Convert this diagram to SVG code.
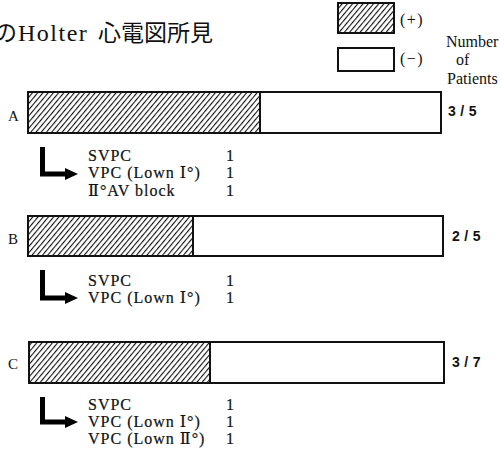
<svg xmlns="http://www.w3.org/2000/svg" width="500" height="449" viewBox="0 0 500 449">
<defs>
<pattern id="hatch" patternUnits="userSpaceOnUse" width="4" height="4" patternTransform="rotate(40)">
<rect width="4" height="4" fill="#fff"/>
<line x1="0" y1="0" x2="0" y2="4" stroke="#111" stroke-width="2.2"/>
</pattern>
<marker id="ah" markerWidth="3" markerHeight="4" refX="0.2" refY="2" orient="auto" markerUnits="strokeWidth">
<path d="M0,0.8 L2.6,2 L0,3.2 Z" fill="#000"/>
</marker>
</defs>
<style>
.bar{fill:#fff;stroke:#111;stroke-width:2}
.hat{fill:url(#hatch);stroke:#111;stroke-width:2}
.lbl{font-family:"Liberation Serif",serif;font-size:15px;fill:#111}
.frac{font-family:"Liberation Sans",sans-serif;font-size:14px;font-weight:bold;fill:#111;letter-spacing:0.3px}
.item{font-family:"Liberation Serif","DejaVu Serif",serif;font-size:16px;fill:#111;letter-spacing:1px;stroke:#111;stroke-width:0.2}
.leg{font-family:"Liberation Serif",serif;font-size:16px;fill:#111}
.arr{fill:none;stroke:#000;stroke-width:5;marker-end:url(#ah)}
</style>
<rect width="500" height="449" fill="#fff"/>
<g id="title" fill="#111">
<text x="-6" y="41" font-size="23" font-family="'Noto Sans CJK JP',sans-serif">の</text>
<text x="18" y="41" font-size="24" letter-spacing="1.5" font-family="'Liberation Serif',serif">Holter</text>
<text x="98" y="41" font-size="23" font-family="'Noto Sans CJK JP',sans-serif">心電図所見</text>
</g>
<g id="legend">
<rect class="hat" x="338" y="3" width="56" height="30"/>
<text class="leg" x="400" y="25" letter-spacing="1.5">(+)</text>
<rect class="bar" x="338" y="48" width="56" height="23"/>
<text class="leg" x="400" y="64" letter-spacing="1.5">(−)</text>
<text class="leg" x="446" y="47">Number</text>
<text class="leg" x="456" y="65">of</text>
<text class="leg" x="447" y="84">Patients</text>
</g>
<g id="barA">
<text class="lbl" x="8" y="121">A</text>
<rect class="bar" x="28" y="92" width="413" height="41"/>
<rect class="hat" x="28" y="92" width="232" height="41"/>
<text class="frac" x="448" y="116">3 / 5</text>
</g>
<g id="listA">
<text class="item" x="88" y="161">SVPC</text>
<text class="item" x="88" y="178">VPC (Lown Ⅰ°)</text>
<text class="item" x="88" y="196">Ⅱ°AV block</text>
<text class="item" x="226" y="161">1</text>
<text class="item" x="226" y="178">1</text>
<text class="item" x="226" y="196">1</text>
</g>
<g id="barB">
<text class="lbl" x="8" y="244">B</text>
<rect class="bar" x="28" y="216" width="415" height="40"/>
<rect class="hat" x="28" y="216" width="165" height="40"/>
<text class="frac" x="452" y="241">2 / 5</text>
</g>
<g id="listB">
<text class="item" x="88" y="286">SVPC</text>
<text class="item" x="88" y="303">VPC (Lown Ⅰ°)</text>
<text class="item" x="226" y="286">1</text>
<text class="item" x="226" y="303">1</text>
</g>
<g id="barC">
<text class="lbl" x="8" y="369" font-family="'Liberation Sans',sans-serif">C</text>
<rect class="bar" x="29" y="342" width="415" height="41"/>
<rect class="hat" x="29" y="342" width="181" height="41"/>
<text class="frac" x="452" y="367">3 / 7</text>
</g>
<g id="listC">
<text class="item" x="88" y="410">SVPC</text>
<text class="item" x="88" y="427">VPC (Lown Ⅰ°)</text>
<text class="item" x="88" y="444">VPC (Lown Ⅱ°)</text>
<text class="item" x="226" y="410">1</text>
<text class="item" x="226" y="427">1</text>
<text class="item" x="226" y="444">1</text>
</g>
<g id="connectors">
<path class="arr" d="M42.5,147 V174 H66"/>
<path class="arr" d="M42.5,270 V298 H66"/>
<path class="arr" d="M42.5,397 V422 H66"/>
</g>
</svg>
